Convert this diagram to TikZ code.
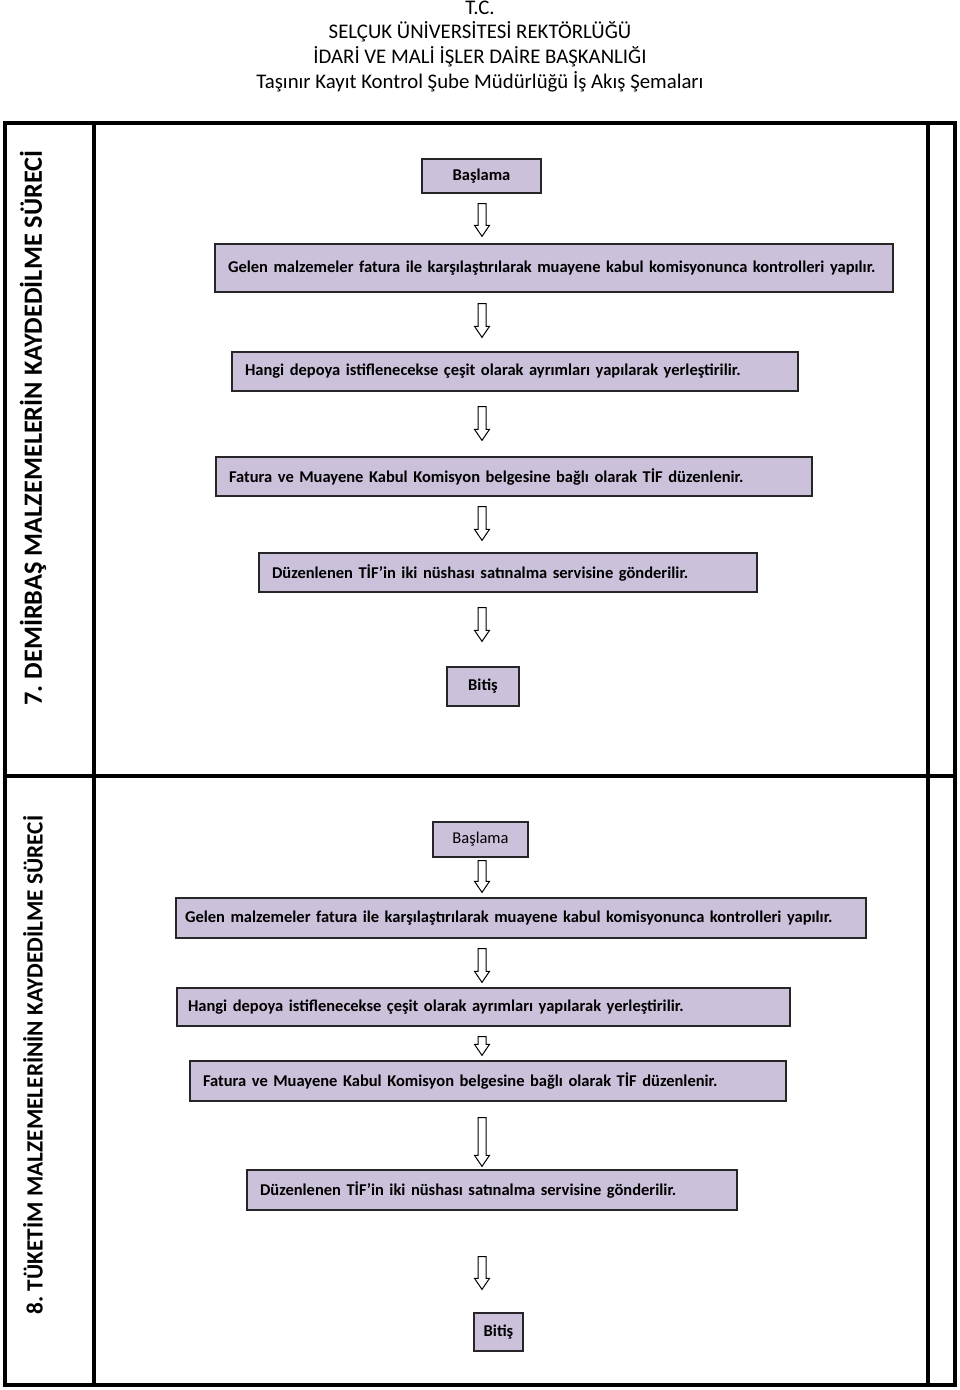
\documentclass[tikz,border=0pt]{standalone}
\usepackage{fontspec}
\setmainfont{Carlito}
\usepackage{xcolor}
\usetikzlibrary{calc,positioning}

\definecolor{boxlilac}{RGB}{204,193,218}

\tikzset{
  procbox/.style={draw=black!85, fill=boxlilac, line width=1.3pt, inner xsep=13pt,
    minimum width=#1pt, text width=#1pt-26pt, align=left, font=\fontsize{16.5}{19}\selectfont\bfseries},
  endbox/.style={draw=black!85, fill=boxlilac, line width=1.3pt, minimum width=#1pt,
    align=center, font=\fontsize{16.5}{19}\selectfont},
  frameline/.style={line width=4.5pt, black},
  arrowline/.style={draw=black, fill=white, line width=1pt, line join=miter},
  headline/.style={font=\fontsize{20.8}{24}\selectfont}
}

% hollow block arrow from node #1 down to node #2, gaps #3 and #4
\newcommand{\flowarrow}[4]{%
  \draw[arrowline] let \p1=(#1.south), \p2=(#2.north), \p3=(axis) in
    (\x3-4pt,\y1-#3pt) -- (\x3+4pt,\y1-#3pt) -- (\x3+4pt,\y2+#4pt+11pt)
    -- (\x3+7.5pt,\y2+#4pt+11pt) -- (\x3,\y2+#4pt) -- (\x3-7.5pt,\y2+#4pt+11pt)
    -- (\x3-4pt,\y2+#4pt+11pt) -- cycle;}

\frenchspacing
\begin{document}
\begin{tikzpicture}[x=1pt, y=-1pt]
    \useasboundingbox (0,0) rectangle (960,1390);
    \coordinate (axis) at (482,0);

    % Heading
    \node[headline, inner ysep=1pt] (hd1) at (480,8) {T.C.};
    \node[headline] (hd2) at (480,32) {SELÇUK ÜNİVERSİTESİ REKTÖRLÜĞÜ};
    \node[headline] (hd3) at (480,57) {İDARİ VE MALİ İŞLER DAİRE BAŞKANLIĞI};
    \node[headline] (hd4) at (480,82) {Taşınır Kayıt Kontrol Şube Müdürlüğü İş Akış Şemaları};

    % Frame
    \draw[frameline] (5,123) rectangle (955,1385);
    \draw[frameline] (94,123) -- (94,1385);
    \draw[frameline] (928,123) -- (928,1385);
    \draw[frameline] (5,776) -- (955,776);

    % Side titles
    \node[rotate=90, font=\fontsize{26.3}{30}\selectfont\bfseries] (title7) at (33,428)
        {7. DEMİRBAŞ MALZEMELERİN KAYDEDİLME SÜRECİ};
    \node[rotate=90, font=\fontsize{23.3}{27}\selectfont\bfseries] (title8) at (33,1065)
        {8. TÜKETİM MALZEMELERİNİN KAYDEDİLME SÜRECİ};

    % Process 7
    \node[endbox=119, minimum height=34pt, font=\fontsize{16.5}{19}\selectfont\bfseries] (start7) at (481.5,176) {Başlama};
    \node[procbox=678, minimum height=48pt] (check7) at (554,268)
        {Gelen malzemeler fatura ile karşılaştırılarak muayene kabul komisyonunca kontrolleri yapılır.};
    \node[procbox=566, minimum height=39pt] (store7) at (515,371.5)
        {Hangi depoya istiflenecekse çeşit olarak ayrımları yapılarak yerleştirilir.};
    \node[procbox=596, minimum height=39pt] (tif7) at (514,476.5)
        {Fatura ve Muayene Kabul Komisyon belgesine bağlı olarak TİF düzenlenir.};
    \node[procbox=498, minimum height=39pt] (send7) at (508,572.5)
        {Düzenlenen TİF’in iki nüshası satınalma servisine gönderilir.};
    \node[endbox=72, minimum height=39pt, font=\fontsize{16.5}{19}\selectfont\bfseries] (end7) at (483,686.5) {Bitiş};

    \flowarrow{start7}{check7}{10}{7}
    \flowarrow{check7}{store7}{11}{14}
    \flowarrow{store7}{tif7}{15}{16}
    \flowarrow{tif7}{send7}{10}{12}
    \flowarrow{send7}{end7}{15}{25}

    % Process 8
    \node[endbox=95, minimum height=35pt] (start8) at (480.5,839.5) {Başlama};
    \node[procbox=690, minimum height=40pt, inner xsep=9pt, text width=672pt] (check8) at (521,918)
        {Gelen malzemeler fatura ile karşılaştırılarak muayene kabul komisyonunca kontrolleri yapılır.};
    \node[procbox=613, minimum height=38pt, inner xsep=11pt, text width=591pt] (store8) at (483.5,1007)
        {Hangi depoya istiflenecekse çeşit olarak ayrımları yapılarak yerleştirilir.};
    \node[procbox=596, minimum height=40pt] (tif8) at (488,1081)
        {Fatura ve Muayene Kabul Komisyon belgesine bağlı olarak TİF düzenlenir.};
    \node[procbox=490, minimum height=40pt] (send8) at (492,1190)
        {Düzenlenen TİF’in iki nüshası satınalma servisine gönderilir.};
    \node[endbox=49, minimum height=38pt, font=\fontsize{16.5}{19}\selectfont\bfseries] (end8) at (498.5,1332) {Bitiş};

    \flowarrow{start8}{check8}{3}{5}
    \flowarrow{check8}{store8}{10}{5}
    \flowarrow{store8}{tif8}{10}{5}
    \flowarrow{tif8}{send8}{16}{3}
    \flowarrow{send8}{end8}{46}{23}
\end{tikzpicture}
\end{document}
